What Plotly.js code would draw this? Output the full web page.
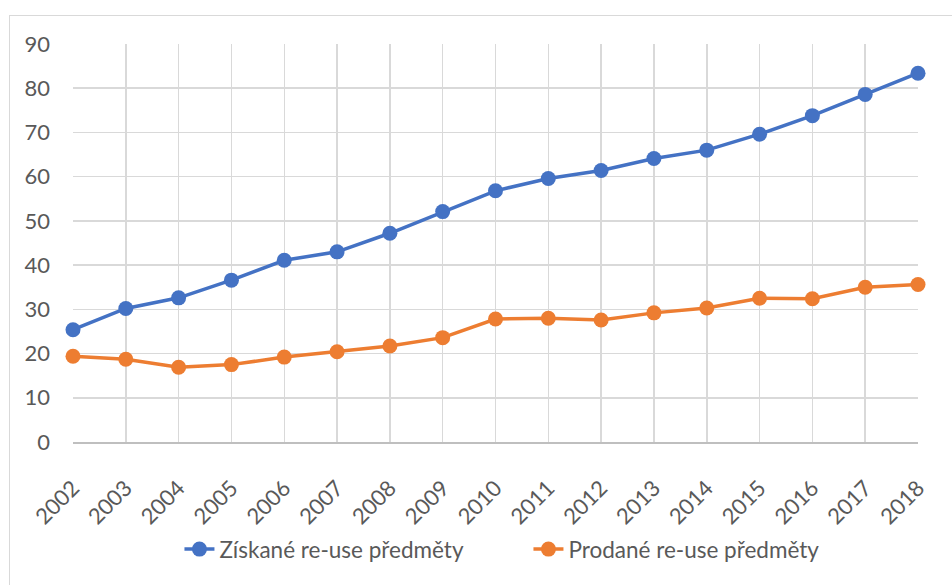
<!DOCTYPE html>
<html>
<head>
<meta charset="utf-8">
<script src="https://cdn.plot.ly/plotly-3.0.1.min.js"></script>
<style>
  html, body { margin: 0; padding: 0; background: #fff; overflow: hidden; }
  #chart { width: 952px; height: 585px; }
  #frame { position: absolute; left: 9px; top: 15px; width: 1200px; height: 1200px;
           border: 1px solid #d9d9d9; pointer-events: none; }
</style>
</head>
<body>
<div id="chart"></div>
<div id="frame"></div>
<script>
const years = [2002, 2003, 2004, 2005, 2006, 2007, 2008, 2009, 2010, 2011, 2012, 2013, 2014, 2015, 2016, 2017, 2018];
const ziskane = [25.4, 30.2, 32.6, 36.6, 41.1, 43.0, 47.2, 52.1, 56.8, 59.6, 61.4, 64.1, 66.0, 69.6, 73.8, 78.6, 83.4];
const prodane = [19.4, 18.7, 16.9, 17.5, 19.2, 20.4, 21.7, 23.6, 27.8, 28.0, 27.6, 29.2, 30.3, 32.5, 32.4, 35.0, 35.6];
const seriesNames = ['Získané re-use předměty', 'Prodané re-use předměty'];
const yTicks = [0, 10, 20, 30, 40, 50, 60, 70, 80, 90];

const font = { family: 'Lato, "Open Sans", sans-serif', size: 22, color: '#595959' };
const legendFont = { family: 'Lato, "Open Sans", sans-serif', size: 22.5, color: '#595959' };

const traces = [
  { x: years, y: ziskane, name: seriesNames[0], type: 'scatter', mode: 'lines+markers',
    cliponaxis: false,
    line: { color: '#4472C4', width: 3.5 }, marker: { color: '#4472C4', size: 15 } },
  { x: years, y: prodane, name: seriesNames[1], type: 'scatter', mode: 'lines+markers',
    cliponaxis: false,
    line: { color: '#ED7D31', width: 3.5 }, marker: { color: '#ED7D31', size: 15 } }
];

const layout = {
  width: 952, height: 585,
  margin: { l: 73, r: 34, t: 44, b: 143, autoexpand: false },
  paper_bgcolor: '#fff', plot_bgcolor: '#fff',
  font: font,
  showlegend: true,
  legend: { orientation: 'h', x: 0.539, xanchor: 'center', y: -0.27, yanchor: 'middle',
            font: legendFont, itemwidth: 30, traceorder: 'normal',
            entrywidth: 304, entrywidthmode: 'pixels' },
  xaxis: {
    type: 'linear', range: [2002, 2018], tickmode: 'array', tickvals: years,
    ticktext: years.map(String), tickangle: -45,
    showgrid: true, gridcolor: '#d9d9d9', gridwidth: 1.5,
    showline: true, linecolor: '#bfbfbf', linewidth: 1.5,
    zeroline: false, ticks: '', ticklabelstandoff: 23, automargin: false,
    tickfont: font
  },
  yaxis: {
    range: [0, 90], tickmode: 'array', tickvals: yTicks,
    showgrid: true, gridcolor: '#d9d9d9', gridwidth: 1.5,
    zeroline: false, showline: false, ticks: '', ticklabelstandoff: 22,
    automargin: false, tickfont: font
  }
};

Plotly.newPlot('chart', traces, layout, { displayModeBar: false, staticPlot: true });
</script>
</body>
</html>
